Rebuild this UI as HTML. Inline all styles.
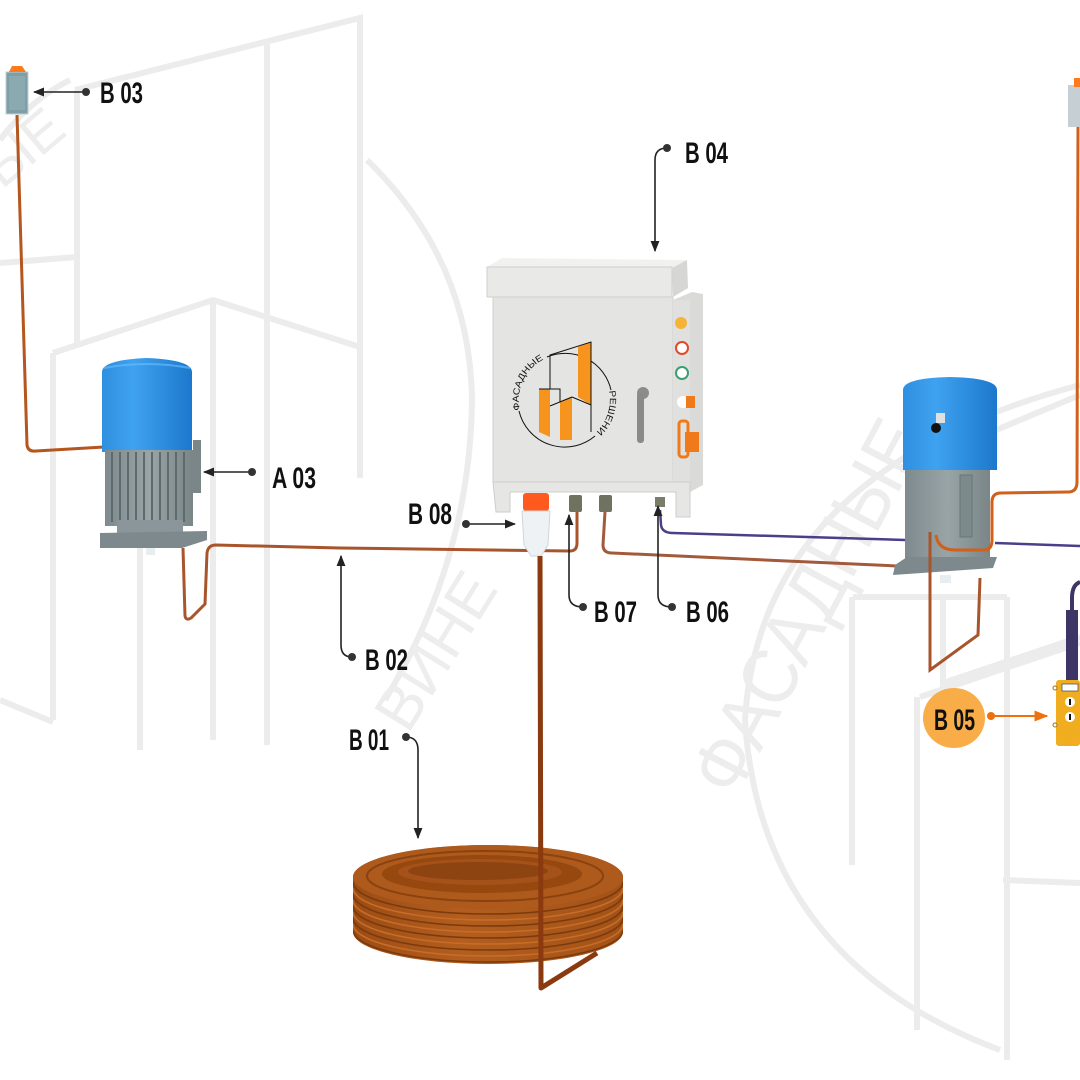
<!DOCTYPE html>
<html><head><meta charset="utf-8"><style>
html,body{margin:0;padding:0;background:#fff;}
svg{display:block;}
.lbl{font-family:"Liberation Sans","Noto Sans CJK SC",sans-serif;font-weight:bold;font-size:30px;fill:#111;}
.wm{fill:none;stroke:#ececec;stroke-width:6;}
.wmt{font-family:"Liberation Sans","Noto Sans CJK SC",sans-serif;fill:#ededed;}
.lead{fill:none;stroke:#222;stroke-width:1.6;}
</style></head><body>
<svg width="1080" height="1080" viewBox="0 0 1080 1080" xmlns="http://www.w3.org/2000/svg">
<defs>
<marker id="ah" viewBox="0 0 10 10" refX="9" refY="5" markerWidth="7" markerHeight="7" orient="auto"><path d="M0,1 L10,5 L0,9 Z" fill="#222"/></marker>
<marker id="aho" viewBox="0 0 10 10" refX="9" refY="5" markerWidth="7" markerHeight="7" orient="auto"><path d="M0,1 L10,5 L0,9 Z" fill="#f07010"/></marker>
<linearGradient id="blue" x1="0" x2="1" y1="0" y2="0">
<stop offset="0" stop-color="#2f8fe0"/><stop offset="0.35" stop-color="#3fa2f0"/><stop offset="1" stop-color="#1c78cc"/></linearGradient>
<linearGradient id="gray" x1="0" x2="1" y1="0" y2="0">
<stop offset="0" stop-color="#7e8a8d"/><stop offset="0.5" stop-color="#98a4a6"/><stop offset="1" stop-color="#7a8588"/></linearGradient>
<linearGradient id="coil" x1="0" x2="1" y1="0" y2="0">
<stop offset="0" stop-color="#9c4c14"/><stop offset="0.4" stop-color="#b35e1e"/><stop offset="1" stop-color="#a35217"/></linearGradient>
<clipPath id="coilclip"><path d="M353,877 A135,32 0 0 1 623,877 L623,932 A135,32 0 0 1 353,932 Z"/></clipPath>
</defs>

<!-- watermark left -->
<g class="wm">
<path d="M75,90 L360,18 L360,478"/>
<path d="M77,90 L77,343"/>
<path d="M267,43 L267,300"/>
<path d="M0,263 L77,257"/>
<path d="M53,353 L213,300 L360,347"/>
<path d="M53,353 L53,720"/>
<path d="M140,377 L140,750"/>
<path d="M213,300 L213,740"/>
<path d="M267,300 L267,745"/>
<path d="M0,700 L53,722"/>
<path d="M367,160 Q470,260 472,400 Q470,560 385,700"/>
<path d="M0,140 Q30,100 70,80"/>
</g>
<text class="wmt" font-size="62" transform="translate(408,735) rotate(-58)">ВИНЕ</text>
<text class="wmt" font-size="56" transform="translate(2,190) rotate(-40)">ЫЕ</text>

<!-- watermark right -->
<g class="wm">
<path d="M1080,385 Q760,470 745,720 Q760,960 1000,1050"/>
<path d="M853,597 L1007,597"/>
<path d="M852,597 L852,865"/>
<path d="M917,697 L917,1030"/>
<path d="M943,597 L943,687"/>
<path d="M1007,597 L1007,1060"/>
<path d="M920,697 L1080,643"/>
<path d="M943,683 L1080,637"/>
<path d="M1003,880 L1080,883"/>
<path d="M900,470 L1080,395"/>
</g>
<text class="wmt" font-size="78" textLength="410" lengthAdjust="spacingAndGlyphs" transform="translate(735,800) rotate(-62)">ФАСАДНЫЕ</text>

<!-- left B03 device and wire -->
<path d="M17,115 L27,445 Q28,452 36,451 L104,447" fill="none" stroke="#b5561f" stroke-width="3"/>
<rect x="6" y="72" width="22" height="42" fill="#7f9ea6" stroke="#c0d0d4" stroke-width="1"/>
<rect x="9" y="76" width="16" height="34" fill="#8aaab0"/>
<path d="M9,72 L12,66 L22,66 L26,72 Z" fill="#ff7a1a"/>

<!-- left motor A03 -->
<path d="M102,372 Q102,360 147,358 Q192,360 192,372 L192,452 L102,452 Z" fill="url(#blue)"/>
<path d="M104,368 Q147,360 190,368" fill="none" stroke="#6cc0ff" stroke-width="2" opacity="0.6"/>
<rect x="193" y="440" width="8" height="53" fill="#7b8689"/>
<rect x="105" y="450" width="88" height="76" fill="url(#gray)"/>
<g stroke="#5f6a6d" stroke-width="2">
<line x1="112" y1="452" x2="112" y2="522"/><line x1="120" y1="452" x2="120" y2="522"/><line x1="128" y1="452" x2="128" y2="522"/><line x1="136" y1="452" x2="136" y2="522"/><line x1="144" y1="452" x2="144" y2="522"/><line x1="152" y1="452" x2="152" y2="522"/><line x1="160" y1="452" x2="160" y2="522"/><line x1="168" y1="452" x2="168" y2="522"/><line x1="176" y1="452" x2="176" y2="522"/><line x1="184" y1="452" x2="184" y2="522"/>
</g>
<rect x="117" y="520" width="66" height="15" fill="#8a9699"/>
<path d="M100,533 L207,531 L207,540 L182,548 L100,548 Z" fill="#7d898c"/>
<rect x="146" y="548" width="9" height="7" fill="#e8eef0"/>

<!-- B02 wire -->
<path d="M183,548 L185,616 Q186,621 191,618 L205,604 L207,553 Q208,545 216,545 L340,548 L570,551 Q577,551 577,543 L577,512" fill="none" stroke="#a8552c" stroke-width="3"/>
<!-- second wire to right motor -->
<path d="M605,512 L603,545 Q603,553 612,553 L897,566" fill="none" stroke="#a25a3a" stroke-width="3"/>
<!-- purple wire -->
<path d="M660,510 L661,525 Q662,533 673,533 L905,540" fill="none" stroke="#4a3f8a" stroke-width="2.5"/>
<path d="M995,543 L1080,546" fill="none" stroke="#4a3f8a" stroke-width="2.5"/>

<!-- control box B04 -->
<path d="M487,267 L502,258 L687,260 L672,268 Z" fill="#f1f1ef"/>
<rect x="487" y="267" width="185" height="30" fill="#e9e9e7" stroke="#cfcfcd" stroke-width="1"/>
<path d="M672,268 L687,260 L688,288 L673,297 Z" fill="#d6d6d4"/>
<rect x="493" y="297" width="180" height="185" fill="#e4e4e2" stroke="#d0d0ce" stroke-width="1"/>
<path d="M673,300 L692,292 L703,294 L703,485 L690,492 L673,490 Z" fill="#dadad8"/>
<rect x="673" y="300" width="17" height="190" fill="#e0e0de"/>
<path d="M493,482 L690,482 L690,517 L676,517 L676,492 L510,492 L510,512 L496,512 Z" fill="#e6e6e4" stroke="#cdcdcb" stroke-width="1"/>
<!-- logo -->
<path d="M595,436 A47,47 0 0 1 519,411" fill="none" stroke="#111" stroke-width="1"/>
<path d="M547,357 A47,47 0 0 1 611,390" fill="none" stroke="#111" stroke-width="1"/>
<path id="tp1" d="M520,410 A45,45 0 0 1 547,358" fill="none"/>
<path id="tp2" d="M609,391 A45,45 0 0 1 594,434" fill="none"/>
<text font-family="Liberation Sans, sans-serif" font-size="9" fill="#111"><textPath href="#tp1" textLength="60" lengthAdjust="spacingAndGlyphs">ФАСАДНЫЕ</textPath></text>
<text font-family="Liberation Sans, sans-serif" font-size="9" fill="#111"><textPath href="#tp2" textLength="52" lengthAdjust="spacingAndGlyphs">РЕШЕНИЯ</textPath></text>
<polygon points="578,347 591,342 591,405 578,397" fill="#f7941d"/>
<polygon points="560,402 572,397 572,440 560,440" fill="#f7941d"/>
<polygon points="539,389 550,389 550,437 539,432" fill="#f7941d"/>
<g fill="none" stroke="#111" stroke-width="1">
<polyline points="550,389 550,355 591,342 591,432"/>
<polyline points="539,389 560,389 560,402"/>
<line x1="550" y1="406" x2="572" y2="397"/>
<line x1="572" y1="397" x2="591" y2="405"/>
</g>
<!-- handle -->
<circle cx="643" cy="393" r="6" fill="#8c8c8c"/>
<rect x="637" y="393" width="7" height="50" rx="3" fill="#8a8a8a"/>
<!-- side buttons -->
<circle cx="681" cy="323" r="6" fill="#f5b436"/>
<circle cx="682" cy="348" r="6" fill="#fff" stroke="#e04a2a" stroke-width="2"/>
<circle cx="682" cy="373" r="6" fill="#fff" stroke="#3aa070" stroke-width="2"/>
<circle cx="683" cy="402" r="6" fill="#fff"/>
<rect x="686" y="396" width="9" height="12" fill="#f07a1a"/>
<rect x="679" y="421" width="9" height="36" rx="3" fill="none" stroke="#f07a1a" stroke-width="3"/>
<rect x="685" y="432" width="14" height="20" fill="#f07a1a"/>
<!-- glands / plug -->
<rect x="569" y="495" width="13" height="17" rx="2" fill="#6e725e"/>
<rect x="599" y="495" width="13" height="17" rx="2" fill="#6e725e"/>
<rect x="655" y="497" width="10" height="10" fill="#7a7e68"/>
<rect x="523" y="493" width="26" height="18" rx="3" fill="#ff5a1e"/>
<path d="M522,511 L550,511 L548,545 L541,556 L531,556 L524,545 Z" fill="#eef2f4" stroke="#cfd6da" stroke-width="1"/>

<!-- right motor -->
<path d="M903,390 Q903,378 950,377 Q997,378 997,390 L997,470 L903,470 Z" fill="url(#blue)"/>
<rect x="936" y="413" width="9" height="10" fill="#e0e0e0"/>
<circle cx="936" cy="428" r="5" fill="#111"/>
<rect x="905" y="470" width="85" height="88" fill="url(#gray)"/>
<rect x="960" y="475" width="12" height="62" fill="#7c8a8c" stroke="#6a7678" stroke-width="1"/>
<path d="M895,565 L907,557 L997,557 L993,568 L893,575 Z" fill="#7d898c"/>
<rect x="940" y="575" width="11" height="8" fill="#e8eef0"/>
<!-- right orange wire -->
<path d="M936,535 Q938,550 955,550 L984,550 Q992,550 992,540 L992,502 Q992,493 1001,493 L1068,492 Q1077,492 1077,482 L1078,125" fill="none" stroke="#d0601c" stroke-width="3"/>
<!-- right copper loop -->
<path d="M930,532 L930,670 L978,635 L980,578" fill="none" stroke="#a8552c" stroke-width="3"/>
<!-- right B03 device -->
<rect x="1068" y="85" width="12" height="42" fill="#c5cfd4"/>
<rect x="1074" y="78" width="6" height="9" fill="#ff7a1a"/>

<!-- pendant B05 -->
<path d="M1080,582 Q1072,585 1072,598 L1072,680" fill="none" stroke="#3d3566" stroke-width="4"/>
<rect x="1066" y="610" width="12" height="70" fill="#3d3566"/>
<rect x="1056" y="680" width="24" height="66" rx="3" fill="#f0ad20"/>
<rect x="1062" y="684" width="16" height="7" fill="#fff" stroke="#555" stroke-width="0.8"/>
<circle cx="1070" cy="702" r="5" fill="#fff"/><rect x="1069" y="699" width="2" height="6" fill="#111"/>
<circle cx="1070" cy="717" r="5" fill="#fff"/><rect x="1069" y="714" width="2" height="6" fill="#111"/>
<circle cx="1055" cy="688" r="2" fill="#fff" stroke="#a07010"/>
<circle cx="1055" cy="725" r="2" fill="#fff" stroke="#a07010"/>

<!-- coil -->
<path d="M353,877 A135,32 0 0 1 623,877 L623,932 A135,32 0 0 1 353,932 Z" fill="url(#coil)"/>
<g clip-path="url(#coilclip)" fill="none" stroke-width="1.6">
<path d="M353,882 A135,32 0 0 0 623,882" stroke="#7a3a0e"/>
<path d="M353,888 A135,32 0 0 0 623,888" stroke="#c66d2a"/>
<path d="M353,894 A135,32 0 0 0 623,894" stroke="#7a3a0e"/>
<path d="M353,900 A135,32 0 0 0 623,900" stroke="#c66d2a"/>
<path d="M353,906 A135,32 0 0 0 623,906" stroke="#7a3a0e"/>
<path d="M353,912 A135,32 0 0 0 623,912" stroke="#c66d2a"/>
<path d="M353,918 A135,32 0 0 0 623,918" stroke="#7a3a0e"/>
<path d="M353,924 A135,32 0 0 0 623,924" stroke="#c66d2a"/>
<path d="M353,930 A135,32 0 0 0 623,930" stroke="#7a3a0e"/>
<path d="M353,936 A135,32 0 0 0 623,936" stroke="#c66d2a"/>
<path d="M353,942 A135,32 0 0 0 623,942" stroke="#7a3a0e"/>
</g>
<ellipse cx="488" cy="877" rx="135" ry="32" fill="#ad5a1c"/>
<ellipse cx="485" cy="876" rx="118" ry="25" fill="none" stroke="#8a420f" stroke-width="2"/>
<ellipse cx="482" cy="874" rx="100" ry="19" fill="#96480f"/>
<ellipse cx="480" cy="872" rx="82" ry="13" fill="#a5521a"/>
<ellipse cx="478" cy="871" rx="70" ry="9" fill="#8e4410"/>
<!-- plug cable -->
<path d="M540,556 L541,988 L597,953" fill="none" stroke="#8b3a10" stroke-width="5" stroke-linejoin="round"/>

<!-- leaders -->
<g>
<line class="lead" x1="86" y1="92" x2="34" y2="92" marker-end="url(#ah)"/><circle cx="86" cy="92" r="4" fill="#333"/>
<line class="lead" x1="252" y1="472" x2="204" y2="472" marker-end="url(#ah)"/><circle cx="252" cy="472" r="4" fill="#333"/>
<path class="lead" d="M667,148 Q655,148 655,160 L655,251" marker-end="url(#ah)"/><circle cx="667" cy="148" r="4" fill="#333"/>
<line class="lead" x1="466" y1="524" x2="515" y2="524" marker-end="url(#ah)"/><circle cx="466" cy="524" r="4" fill="#333"/>
<path class="lead" d="M583,607 Q569,607 569,595 L569,515" marker-end="url(#ah)"/><circle cx="583" cy="607" r="4" fill="#333"/>
<path class="lead" d="M672,607 Q658,607 658,595 L658,506" marker-end="url(#ah)"/><circle cx="672" cy="607" r="4" fill="#333"/>
<path class="lead" d="M352,657 Q341,657 341,645 L341,556" marker-end="url(#ah)"/><circle cx="352" cy="657" r="4" fill="#333"/>
<path class="lead" d="M406,737 Q418,737 418,750 L418,838" marker-end="url(#ah)"/><circle cx="406" cy="737" r="4" fill="#333"/>
</g>

<!-- labels -->
<text class="lbl" x="100" y="103" textLength="43" lengthAdjust="spacingAndGlyphs">B 03</text>
<text class="lbl" x="272" y="488" textLength="44" lengthAdjust="spacingAndGlyphs">A 03</text>
<text class="lbl" x="685" y="163" textLength="43" lengthAdjust="spacingAndGlyphs">B 04</text>
<text class="lbl" x="408" y="524" textLength="44" lengthAdjust="spacingAndGlyphs">B 08</text>
<text class="lbl" x="594" y="622" textLength="43" lengthAdjust="spacingAndGlyphs">B 07</text>
<text class="lbl" x="686" y="622" textLength="43" lengthAdjust="spacingAndGlyphs">B 06</text>
<text class="lbl" x="365" y="670" textLength="43" lengthAdjust="spacingAndGlyphs">B 02</text>
<text class="lbl" x="349" y="750" textLength="40" lengthAdjust="spacingAndGlyphs">B 01</text>

<!-- B05 -->
<ellipse cx="954" cy="718" rx="31" ry="30" fill="#f8ad48"/>
<text class="lbl" x="934" y="730" textLength="41" lengthAdjust="spacingAndGlyphs">B 05</text>
<line x1="991" y1="716" x2="1047" y2="716" stroke="#f07010" stroke-width="2" marker-end="url(#aho)"/>
<circle cx="991" cy="716" r="4" fill="#f07010"/>
</svg>
</body></html>
